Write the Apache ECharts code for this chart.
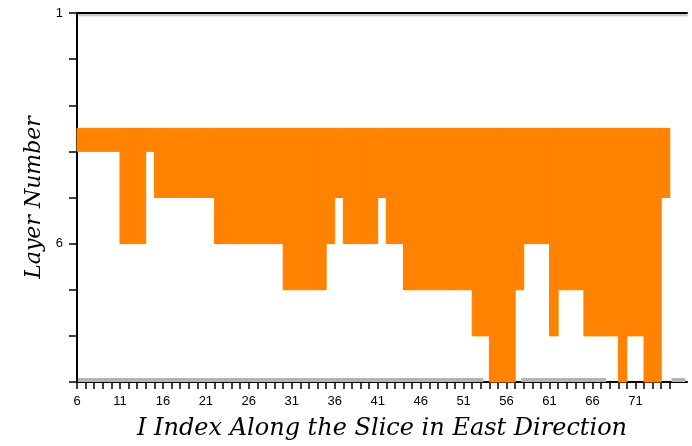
<!DOCTYPE html>
<html>
<head>
<meta charset="utf-8">
<title>Layer Number along the slice</title>
<script src="https://cdn.jsdelivr.net/npm/echarts@6/dist/echarts.min.js"></script>
<style>
  html, body { margin: 0; padding: 0; background: #ffffff; }
  #chart { width: 692px; height: 446px; }
</style>
</head>
<body>
<div id="chart"></div>
<script>
// I index of the first column; each column spans [I, I+1)
var firstIndex = 6;
// Deepest active layer for each column, I = 6 .. 74
var bottomLayer = [
  4, 4, 4, 4, 4,          // 6-10
  6, 6, 6,                // 11-13
  4,                      // 14
  5, 5, 5, 5, 5, 5, 5,    // 15-21
  6, 6, 6, 6, 6, 6, 6, 6, // 22-29
  7, 7, 7, 7, 7,          // 30-34
  6, 5,                   // 35-36
  6, 6, 6, 6,             // 37-40
  5,                      // 41
  6, 6,                   // 42-43
  7, 7, 7, 7, 7, 7, 7, 7, // 44-51
  8, 8,                   // 52-53
  9, 9, 9,                // 54-56
  7,                      // 57
  6, 6, 6,                // 58-60
  8,                      // 61
  7, 7, 7,                // 62-64
  8, 8, 8, 8,             // 65-68
  9,                      // 69
  8, 8,                   // 70-71
  9, 9,                   // 72-73
  5                       // 74
];
// Top of the active layers (same for all columns)
var topLayer = 3.5;

// Bottom boundary segments [start I, end I]
var bottomSegments = [[6.1, 53.3], [57.7, 67.6], [75.2, 76.8]];
var bottomSegmentLayer = 8.96;

// Axis ticks and labels
var xTicks = [];
for (var t = 6; t <= 75; t++) xTicks.push(t);
var xLabels = [6, 11, 16, 21, 26, 31, 36, 41, 46, 51, 56, 61, 66, 71];
var yTicks = [1, 2, 3, 4, 5, 6, 7, 8, 9];
var yLabels = [1, 6];

var ORANGE = '#ff8200';

var columns = bottomLayer.map(function (b, k) {
  var i = firstIndex + k;
  return [i, i + 1, topLayer, b];
});

var chart = echarts.init(document.getElementById('chart'), null, { renderer: 'canvas' });

var labelFont = { color: '#000', fontFamily: 'Liberation Sans, Arial, sans-serif', fontSize: 13 };
var nameFontY = { color: '#000', fontFamily: 'DejaVu Serif, serif', fontStyle: 'italic', fontSize: 22 };
var nameFontX = { color: '#000', fontFamily: 'DejaVu Serif, serif', fontStyle: 'italic', fontSize: 24 };

chart.setOption({
  animation: false,
  backgroundColor: '#ffffff',
  grid: { left: 77, right: 5, top: 13, height: 369, containLabel: false },
  xAxis: [{
    type: 'value',
    min: 6,
    max: 77,
    position: 'bottom',
    name: 'I Index Along the Slice in East Direction',
    nameLocation: 'middle',
    nameGap: 35,
    nameTextStyle: nameFontX,
    axisLine: { show: true, onZero: false, lineStyle: { color: '#000', width: 2 } },
    axisTick: { show: true, inside: false, length: 7, customValues: xTicks, lineStyle: { color: '#000', width: 1.5 } },
    axisLabel: Object.assign({ customValues: xLabels, margin: 13 }, labelFont),
    splitLine: { show: false }
  }, {
    type: 'value',
    min: 6,
    max: 77,
    position: 'top',
    axisLine: { show: true, onZero: false, lineStyle: { color: '#000', width: 2, shadowColor: 'rgba(0,0,0,0.3)', shadowBlur: 2, shadowOffsetY: 2 } },
    axisTick: { show: false },
    axisLabel: { show: false },
    splitLine: { show: false }
  }],
  yAxis: {
    type: 'value',
    inverse: true,
    min: 1,
    max: 9,
    name: 'Layer Number',
    nameLocation: 'middle',
    nameGap: 30,
    nameRotate: 90,
    nameTextStyle: nameFontY,
    axisLine: { show: true, onZero: false, lineStyle: { color: '#000', width: 2 } },
    axisTick: { show: true, inside: false, length: 8, customValues: yTicks, lineStyle: { color: '#000', width: 1.5 } },
    axisLabel: Object.assign({ customValues: yLabels, margin: 14 }, labelFont),
    splitLine: { show: false }
  },
  series: [{
    type: 'custom',
    xAxisIndex: 0,
    data: columns,
    encode: { x: [0, 1], y: [2, 3] },
    renderItem: function (params, api) {
      var p0 = api.coord([api.value(0), api.value(2)]);
      var p1 = api.coord([api.value(1), api.value(3)]);
      return {
        type: 'rect',
        shape: { x: p0[0], y: p0[1], width: p1[0] - p0[0], height: p1[1] - p0[1] },
        style: { fill: ORANGE, stroke: ORANGE, lineWidth: 1 }
      };
    },
    z: 2
  }, {
    type: 'lines',
    coordinateSystem: 'cartesian2d',
    xAxisIndex: 0,
    data: bottomSegments.map(function (s) {
      return { coords: [[s[0], bottomSegmentLayer], [s[1], bottomSegmentLayer]] };
    }),
    lineStyle: { color: '#b4b4b4', width: 4, opacity: 1 },
    z: 1
  }]
});
</script>
</body>
</html>
